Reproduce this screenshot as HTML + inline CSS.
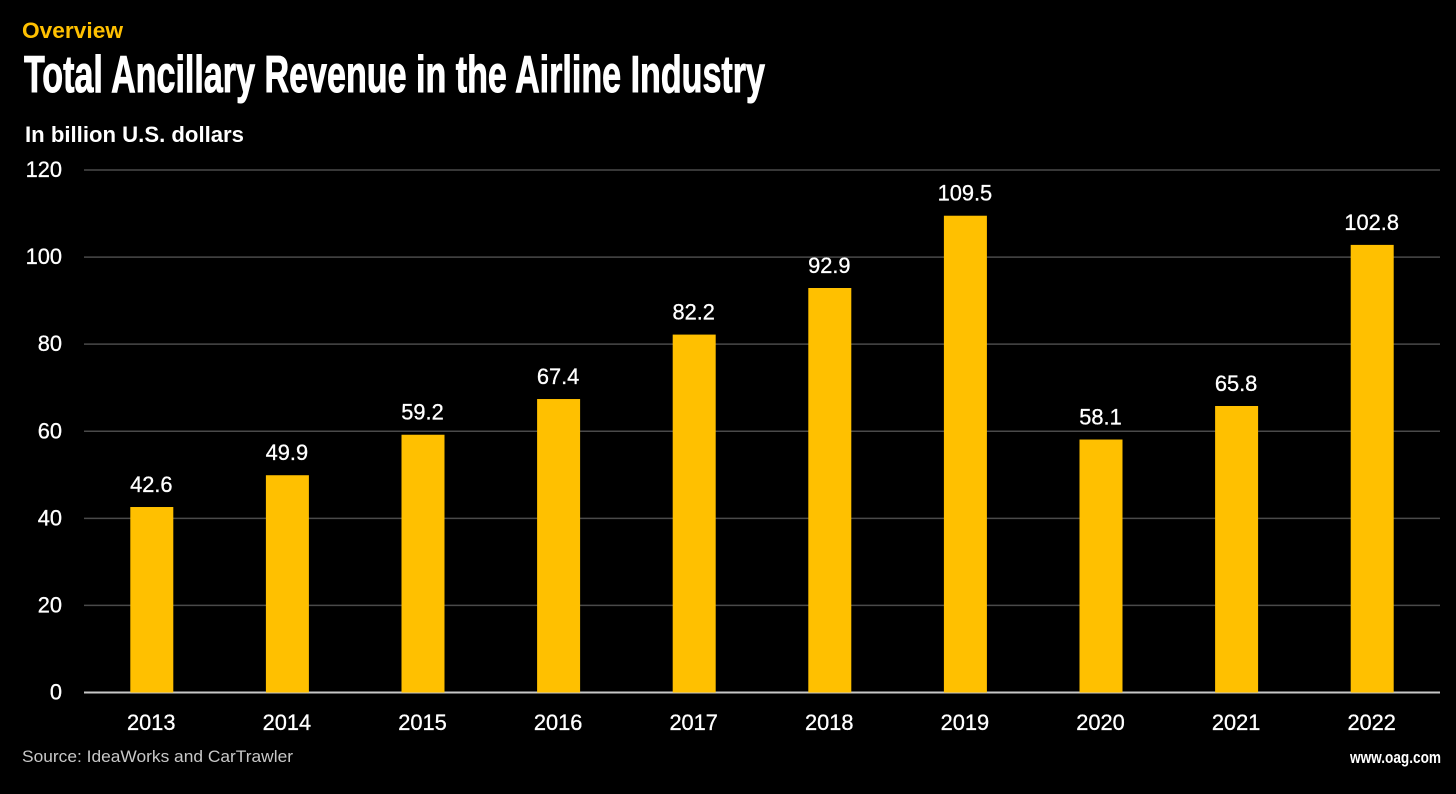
<!DOCTYPE html>
<html lang="en">
<head>
<meta charset="utf-8">
<title>Total Ancillary Revenue in the Airline Industry</title>
<style>
html,body{margin:0;padding:0;background:#000;width:1456px;height:794px;overflow:hidden}
svg{display:block}
text{font-family:"Liberation Sans",Arial,sans-serif;fill:#fff}
</style>
</head>
<body>
<svg id="chart" width="1456" height="794" viewBox="0 0 1456 794" xmlns="http://www.w3.org/2000/svg">
  <rect x="0" y="0" width="1456" height="794" fill="#000"/>
  <text x="22" y="38" font-size="22" font-weight="700" style="fill:#FFC000" textLength="101" lengthAdjust="spacingAndGlyphs">Overview</text>
  <text x="24" y="92" font-size="52" font-weight="700" stroke="#fff" stroke-width="1" textLength="741" lengthAdjust="spacingAndGlyphs">Total Ancillary Revenue in the Airline Industry</text>
  <text x="25" y="142" font-size="22" font-weight="700" textLength="219" lengthAdjust="spacingAndGlyphs">In billion U.S. dollars</text>
  <g id="grid"></g>
  <g id="ylabels"></g>
  <g id="bars"></g>
  <g id="values"></g>
  <g id="xlabels"></g>
  <text x="22" y="762" font-size="17" style="fill:#c8c8c8" textLength="271" lengthAdjust="spacingAndGlyphs">Source: IdeaWorks and CarTrawler</text>
  <text x="1441" y="763" font-size="17" font-weight="700" text-anchor="end" textLength="91" lengthAdjust="spacingAndGlyphs">www.oag.com</text>
</svg>
<script>
const categories = ["2013","2014","2015","2016","2017","2018","2019","2020","2021","2022"];
const revenue = [42.6,49.9,59.2,67.4,82.2,92.9,109.5,58.1,65.8,102.8];
const valueLabels = ["42.6","49.9","59.2","67.4","82.2","92.9","109.5","58.1","65.8","102.8"];
const yTicks = [0,20,40,60,80,100,120];

const plotLeft = 84, plotRight = 1440, plotBottom = 692.5, plotTop = 170, barWidth = 43;
const yMax = 120;
const labelSize = 21.8;
const NS = "http://www.w3.org/2000/svg";
function yScale(v){ return plotBottom - (v / yMax) * (plotBottom - plotTop); }
function xCenter(i){ return plotLeft + (i + 0.5) * (plotRight - plotLeft) / categories.length; }
function make(tag, attrs, parent, txt){
  const el = document.createElementNS(NS, tag);
  for (const k in attrs) el.setAttribute(k, attrs[k]);
  if (txt !== undefined) el.textContent = txt;
  parent.appendChild(el);
  return el;
}
const grid = document.getElementById("grid");
const ylabels = document.getElementById("ylabels");
const bars = document.getElementById("bars");
const values = document.getElementById("values");
const xlabels = document.getElementById("xlabels");

yTicks.forEach(function(t){
  const line = make("line", {x1: plotLeft, x2: plotRight, y1: yScale(t), y2: yScale(t),
    stroke: t === 0 ? "#c8c8c8" : "#4a4a4a", "stroke-width": t === 0 ? 2 : 1.5}, grid);
  
  
  const lab = make("text", {x: 62, y: yScale(t) + 7, "font-size": labelSize, "text-anchor": "end", stroke: "#fff", "stroke-width": 0.3}, ylabels, String(t));
  
  
});

categories.forEach(function(c, i){
  const v = revenue[i];
  const bar = make("rect", {x: xCenter(i) - barWidth / 2, y: yScale(v), width: barWidth,
    height: plotBottom - yScale(v), fill: "#FFC000"}, bars);
  
  
  const val = make("text", {x: xCenter(i) - 0.5, y: yScale(v) - 15, "font-size": labelSize, "text-anchor": "middle", stroke: "#fff", "stroke-width": 0.3}, values, valueLabels[i]);
  
  
  const xl = make("text", {x: xCenter(i) - 0.5, y: 730, "font-size": labelSize, "text-anchor": "middle", stroke: "#fff", "stroke-width": 0.3}, xlabels, c);
  
  
});
</script>
</body>
</html>
